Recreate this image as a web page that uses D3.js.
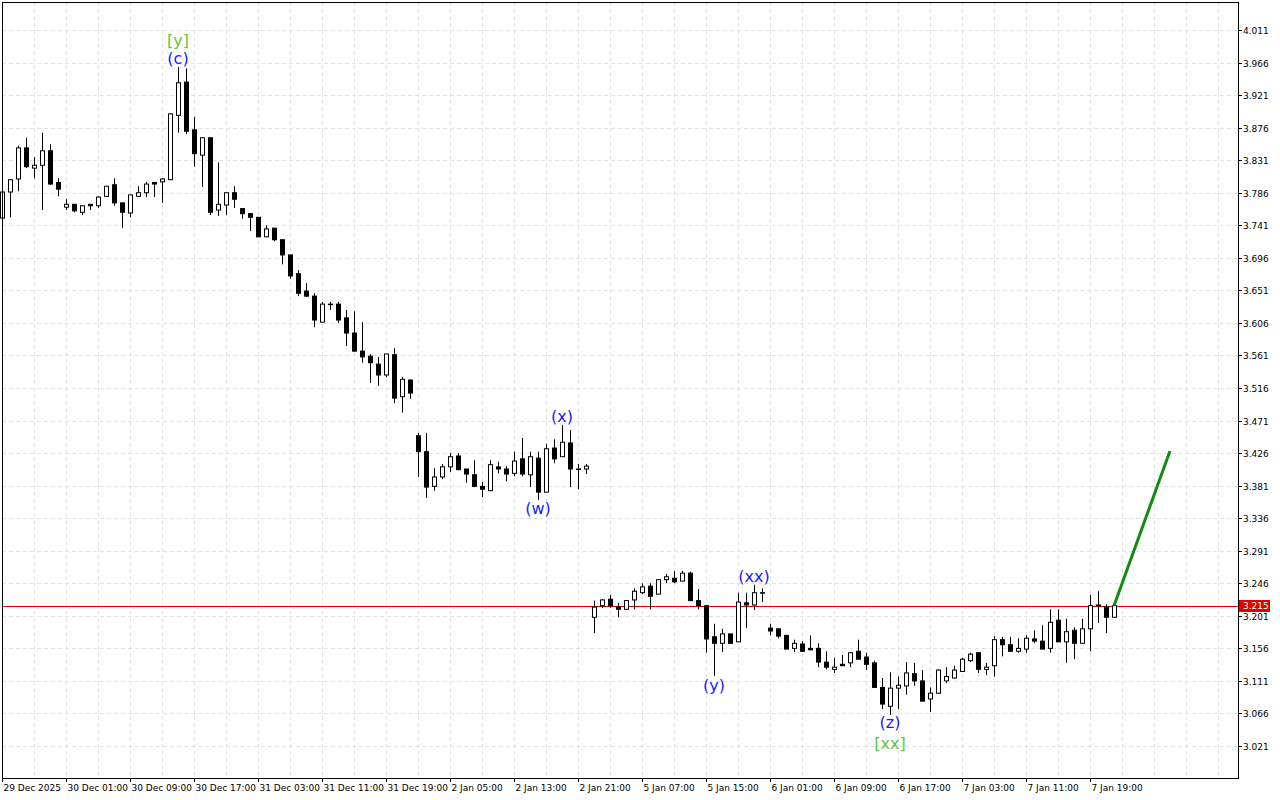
<!DOCTYPE html>
<html><head><meta charset="utf-8">
<script src="https://cdn.jsdelivr.net/npm/d3@7"></script>
<style>body{margin:0;background:#fff;}svg{display:block;font-family:"DejaVu Sans",sans-serif;}</style>
</head><body>
<svg id="c" width="1280" height="800"></svg>
<script>
// OHLC, hourly candles
const opens  = [3.751,3.787,3.805,3.848,3.820,3.824,3.844,3.800,3.766,3.770,3.759,3.770,3.768,3.781,3.797,3.772,3.758,3.781,3.786,3.800,3.801,3.804,3.893,3.939,3.873,3.838,3.862,3.762,3.769,3.786,3.764,3.757,3.752,3.725,3.737,3.721,3.700,3.674,3.650,3.643,3.607,3.632,3.632,3.613,3.592,3.567,3.560,3.549,3.534,3.562,3.504,3.527,3.450,3.428,3.380,3.393,3.407,3.422,3.404,3.396,3.380,3.374,3.407,3.404,3.398,3.418,3.396,3.419,3.372,3.433,3.421,3.440,3.404,3.404,3.199,3.215,3.224,3.213,3.210,3.223,3.233,3.242,3.231,3.251,3.253,3.249,3.260,3.222,3.215,3.172,3.163,3.176,3.165,3.219,3.216,3.233,3.184,3.183,3.174,3.156,3.162,3.156,3.156,3.137,3.127,3.134,3.136,3.152,3.144,3.136,3.102,3.076,3.101,3.104,3.121,3.111,3.086,3.094,3.111,3.115,3.124,3.139,3.150,3.127,3.132,3.168,3.161,3.152,3.155,3.169,3.166,3.156,3.195,3.165,3.181,3.163,3.183,3.216,3.213,3.199];
const highs  = [3.790,3.804,3.851,3.862,3.835,3.869,3.853,3.806,3.777,3.770,3.768,3.770,3.781,3.795,3.806,3.772,3.783,3.795,3.801,3.801,3.806,3.896,3.960,3.958,3.891,3.862,3.862,3.828,3.786,3.795,3.765,3.758,3.752,3.741,3.737,3.721,3.700,3.679,3.661,3.647,3.635,3.635,3.635,3.624,3.622,3.607,3.563,3.559,3.563,3.571,3.531,3.528,3.454,3.454,3.405,3.411,3.426,3.426,3.404,3.416,3.386,3.416,3.414,3.408,3.428,3.447,3.428,3.428,3.439,3.445,3.465,3.458,3.411,3.411,3.222,3.224,3.230,3.219,3.222,3.239,3.246,3.246,3.251,3.259,3.263,3.263,3.262,3.238,3.215,3.190,3.183,3.176,3.233,3.233,3.244,3.239,3.190,3.184,3.174,3.168,3.166,3.174,3.163,3.152,3.143,3.147,3.150,3.168,3.150,3.139,3.115,3.123,3.117,3.137,3.136,3.126,3.102,3.127,3.130,3.132,3.143,3.150,3.150,3.136,3.173,3.172,3.172,3.170,3.174,3.181,3.188,3.210,3.210,3.197,3.185,3.197,3.230,3.235,3.217,3.215];
const lows   = [3.751,3.752,3.788,3.820,3.806,3.762,3.797,3.781,3.762,3.759,3.755,3.762,3.765,3.780,3.768,3.737,3.752,3.780,3.780,3.780,3.772,3.804,3.869,3.867,3.822,3.794,3.755,3.754,3.755,3.765,3.750,3.733,3.725,3.725,3.719,3.687,3.667,3.643,3.642,3.600,3.607,3.624,3.606,3.574,3.566,3.551,3.523,3.519,3.531,3.495,3.482,3.501,3.393,3.364,3.374,3.390,3.400,3.403,3.385,3.379,3.365,3.374,3.398,3.387,3.394,3.394,3.379,3.361,3.372,3.412,3.421,3.379,3.376,3.397,3.177,3.212,3.212,3.199,3.210,3.210,3.231,3.210,3.231,3.246,3.246,3.249,3.222,3.210,3.150,3.118,3.151,3.163,3.165,3.184,3.209,3.220,3.174,3.170,3.155,3.151,3.151,3.154,3.130,3.127,3.122,3.132,3.130,3.141,3.126,3.102,3.072,3.064,3.072,3.092,3.104,3.083,3.068,3.094,3.108,3.114,3.124,3.137,3.122,3.119,3.117,3.145,3.151,3.150,3.150,3.163,3.155,3.150,3.165,3.136,3.141,3.163,3.152,3.191,3.177,3.199];
const closes = [3.787,3.804,3.848,3.822,3.824,3.844,3.798,3.791,3.770,3.761,3.768,3.768,3.780,3.795,3.772,3.759,3.783,3.786,3.798,3.798,3.805,3.895,3.938,3.871,3.840,3.862,3.759,3.770,3.786,3.777,3.757,3.752,3.725,3.736,3.721,3.700,3.671,3.647,3.643,3.610,3.632,3.632,3.610,3.592,3.567,3.559,3.551,3.534,3.563,3.502,3.528,3.509,3.428,3.379,3.393,3.407,3.421,3.403,3.397,3.380,3.376,3.410,3.404,3.397,3.415,3.397,3.421,3.372,3.432,3.418,3.441,3.404,3.404,3.408,3.213,3.223,3.215,3.210,3.222,3.235,3.241,3.228,3.251,3.255,3.248,3.260,3.222,3.215,3.169,3.163,3.176,3.163,3.220,3.216,3.233,3.233,3.180,3.173,3.155,3.163,3.152,3.154,3.137,3.130,3.130,3.132,3.150,3.141,3.134,3.102,3.079,3.101,3.105,3.122,3.111,3.083,3.094,3.126,3.117,3.126,3.141,3.148,3.127,3.130,3.168,3.161,3.152,3.156,3.170,3.166,3.155,3.192,3.165,3.179,3.163,3.183,3.215,3.215,3.199,3.215];

const timeLabels = ["29 Dec 2025","30 Dec 01:00","30 Dec 09:00","30 Dec 17:00","31 Dec 03:00","31 Dec 11:00","31 Dec 19:00","2 Jan 05:00","2 Jan 13:00","2 Jan 21:00","5 Jan 07:00","5 Jan 15:00","6 Jan 01:00","6 Jan 09:00","6 Jan 17:00","7 Jan 03:00","7 Jan 11:00","7 Jan 19:00"];
const priceTicks = [4.011,3.966,3.921,3.876,3.831,3.786,3.741,3.696,3.651,3.606,3.561,3.516,3.471,3.426,3.381,3.336,3.291,3.246,3.201,3.156,3.111,3.066,3.021];
const currentPrice = 3.215;
const forecastIdx = [139,146];
const forecastVal = [3.215,3.429];
const waveText  = ["[y]","(c)","(x)","(w)","(y)","(xx)","(z)","[xx]"];
const waveIdx   = [22,22,70,67,89,94,111,111];
const wavePrice = [3.997,3.971,3.477,3.350,3.105,3.255,3.053,3.025];
const waveColor = ["#5cc83c","#1a1aff","#1a1aff","#1a1aff","#1a1aff","#1a1aff","#1a1aff","#5cc83c"];

const svg = d3.select("#c");
const L=2,R=1238,T=2,B=778;
const x = d3.scaleLinear().domain([0,139]).range([2,1114]);
const y = d3.scaleLinear().domain([3.021,4.011]).range([746,30]);

// grid
const g = svg.append("g");
for(let i=4;i*8+2<R;i+=4){
  g.append("line").attr("x1",x(i)+0.5).attr("x2",x(i)+0.5).attr("y1",T).attr("y2",B)
   .attr("stroke","#e3e3e3").attr("stroke-dasharray","4,3");
}
priceTicks.forEach(p=>{
  g.append("line").attr("x1",L).attr("x2",R).attr("y1",Math.round(y(p))+0.5).attr("y2",Math.round(y(p))+0.5)
   .attr("stroke","#e3e3e3").attr("stroke-dasharray","4,3");
});

// current price line
svg.append("line").attr("x1",L).attr("x2",R).attr("y1",Math.round(y(currentPrice))+0.5).attr("y2",Math.round(y(currentPrice))+0.5).attr("stroke","#e00000");

// candles
const n = opens.length;
const cg = svg.append("g");
for(let i=0;i<n;i++){
  const cx = Math.round(x(i))+0.5;
  cg.append("line").attr("x1",cx).attr("x2",cx).attr("y1",y(highs[i])).attr("y2",y(lows[i])).attr("stroke","#000");
  const up = closes[i]>=opens[i];
  const top = y(Math.max(opens[i],closes[i])), bot = y(Math.min(opens[i],closes[i]));
  cg.append("rect").attr("x",cx-2).attr("y",top).attr("width",4).attr("height",Math.max(bot-top,0.5))
    .attr("fill",up?"#fff":"#000").attr("stroke","#000").attr("stroke-width",1);
}

// forecast
svg.append("line").attr("x1",x(forecastIdx[0])).attr("y1",y(forecastVal[0]))
  .attr("x2",x(forecastIdx[1])).attr("y2",y(forecastVal[1])).attr("stroke","#138a13").attr("stroke-width",3);

// wave labels
waveText.forEach((t,i)=>{
  svg.append("text").attr("x",x(waveIdx[i])).attr("y",y(wavePrice[i])).attr("text-anchor","middle")
    .attr("dominant-baseline","central").attr("font-size",16).attr("fill",waveColor[i]).text(t);
});

// frame
svg.append("rect").attr("x",L+0.5).attr("y",T+0.5).attr("width",R-L).attr("height",B-T).attr("fill","none").attr("stroke","#000");

// y axis
priceTicks.forEach(p=>{
  const yy=Math.round(y(p))+0.5;
  svg.append("line").attr("x1",R).attr("x2",R+4).attr("y1",yy).attr("y2",yy).attr("stroke","#000");
  svg.append("text").attr("x",R+5).attr("y",yy).attr("dominant-baseline","central").attr("font-size",9).attr("fill","#000").text(p.toFixed(3));
});
const cy = Math.round(y(currentPrice));
svg.append("rect").attr("x",R+1).attr("y",cy-6).attr("width",31).attr("height",12).attr("fill","#e00000");
svg.append("text").attr("x",R+5).attr("y",cy).attr("dominant-baseline","central").attr("font-size",9).attr("fill","#fff").text(currentPrice.toFixed(3));

// x axis
timeLabels.forEach((t,k)=>{
  const xx = Math.round(x(k*8))+0.5;
  svg.append("line").attr("x1",xx).attr("x2",xx).attr("y1",B).attr("y2",B+4).attr("stroke","#000");
  svg.append("text").attr("x",xx+1).attr("y",791).attr("font-size",9).attr("fill","#000").text(t);
});
</script>
</body></html>
